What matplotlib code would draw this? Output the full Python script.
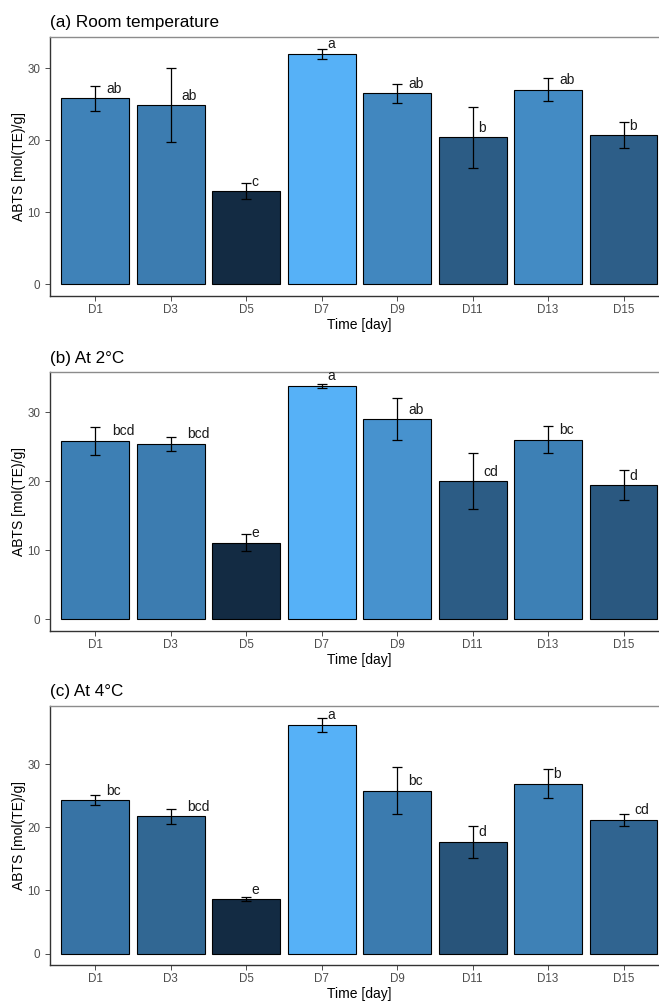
import matplotlib
matplotlib.use("Agg")
import matplotlib.pyplot as plt
import numpy as np

plt.rcParams['font.family'] = ['Liberation Sans', 'DejaVu Sans']

days = ["D1", "D3", "D5", "D7", "D9", "D11", "D13", "D15"]

# mean and sd of ABTS per storage day
room_mean = [25.8, 24.9, 12.9, 32.0, 26.5, 20.4, 27.0, 20.7]
room_sd = [1.7, 5.1, 1.1, 0.7, 1.3, 4.2, 1.6, 1.8]
room_letters = ["ab", "ab", "c", "a", "ab", "b", "ab", "b"]

c2_mean = [25.85, 25.4, 11.1, 33.8, 29.0, 20.0, 26.0, 19.4]
c2_sd = [2.05, 1.05, 1.25, 0.25, 3.0, 4.1, 1.95, 2.2]
c2_letters = ["bcd", "bcd", "e", "a", "ab", "cd", "bc", "d"]

c4_mean = [24.3, 21.7, 8.6, 36.2, 25.8, 17.7, 26.9, 21.15]
c4_sd = [0.75, 1.15, 0.35, 1.1, 3.75, 2.5, 2.35, 0.95]
c4_letters = ["bc", "bcd", "e", "a", "bc", "d", "b", "cd"]

titles = ["(a) Room temperature", "(b) At 2°C", "(c) At 4°C"]


def to_lab(rgb):
    c = np.asarray(rgb, float)
    c = np.where(c > 0.04045, ((c + 0.055) / 1.055) ** 2.4, c / 12.92)
    m = np.array([[0.4124, 0.3576, 0.1805],
                  [0.2126, 0.7152, 0.0722],
                  [0.0193, 0.1192, 0.9505]])
    xyz = m @ c / np.array([0.95047, 1.0, 1.08883])
    f = np.where(xyz > 0.008856, np.cbrt(xyz), 7.787 * xyz + 16 / 116)
    return np.array([116 * f[1] - 16, 500 * (f[0] - f[1]), 200 * (f[1] - f[2])])


def from_lab(lab):
    fy = (lab[0] + 16) / 116
    fx = fy + lab[1] / 500
    fz = fy - lab[2] / 200
    f = np.array([fx, fy, fz])
    xyz = np.where(f ** 3 > 0.008856, f ** 3, (f - 16 / 116) / 7.787)
    xyz = xyz * np.array([0.95047, 1.0, 1.08883])
    m = np.array([[3.2406, -1.5372, -0.4986],
                  [-0.9689, 1.8758, 0.0415],
                  [0.0557, -0.2040, 1.0570]])
    c = m @ xyz
    c = np.where(c > 0.0031308, 1.055 * np.clip(c, 0, None) ** (1 / 2.4) - 0.055, 12.92 * c)
    return np.clip(c, 0, 1)


low = to_lab(matplotlib.colors.to_rgb("#132B43"))
high = to_lab(matplotlib.colors.to_rgb("#56B1F7"))


def fill_colors(vals):
    v = np.array(vals)
    t = (v - v.min()) / (v.max() - v.min())
    return [from_lab(low + (high - low) * ti) for ti in t]


fig = plt.figure(figsize=(6.59, 10.01), dpi=100)
boxes = [[0.0759, 0.7043, 0.939, 0.2587],
         [0.0759, 0.3696, 0.939, 0.2584],
         [0.0759, 0.0356, 0.939, 0.2590]]

panels = [(room_mean, room_sd, room_letters),
          (c2_mean, c2_sd, c2_letters),
          (c4_mean, c4_sd, c4_letters)]

for box, (mean, sd, letters), title in zip(boxes, panels, titles):
    ax = fig.add_axes(box)
    x = np.arange(len(days))
    ax.bar(x, mean, width=0.9, color=fill_colors(mean), edgecolor="black", linewidth=0.8)
    ax.errorbar(x, mean, yerr=sd, fmt="none", ecolor="black", elinewidth=0.9,
                capsize=3.6, capthick=0.9)
    for xi, m, lab in zip(x, mean, letters):
        ax.annotate(lab, xy=(xi, m), xytext=(4.0 * len(lab), 6.8), textcoords="offset points",
                    ha="left", va="center", fontsize=10, color="#1a1a1a")

    top = max(np.array(mean) + np.array(sd))
    ax.set_ylim(-0.05 * top, 1.05 * top)
    ax.set_xlim(-0.6, len(days) - 0.4)
    ax.set_xticks(x)
    ax.set_xticklabels(days)
    ax.set_yticks([0, 10, 20, 30])
    ax.tick_params(colors="#4d4d4d", labelcolor="#4d4d4d", labelsize=8.4, length=3.5, width=0.7)
    ax.tick_params(axis="x", pad=2)
    ax.set_xlabel("Time [day]", fontsize=10, labelpad=1.5)
    ax.set_ylabel("ABTS [mol(TE)/g]", fontsize=10, labelpad=1)
    ax.set_title(title, loc="left", fontsize=12.3, pad=7)
    for side in ["top", "right"]:
        ax.spines[side].set_color("#8c8c8c")
        ax.spines[side].set_linewidth(1.0)
    for side in ["left", "bottom"]:
        ax.spines[side].set_color("#333333")
        ax.spines[side].set_linewidth(1.0)

fig.savefig("out.png", dpi=100)
